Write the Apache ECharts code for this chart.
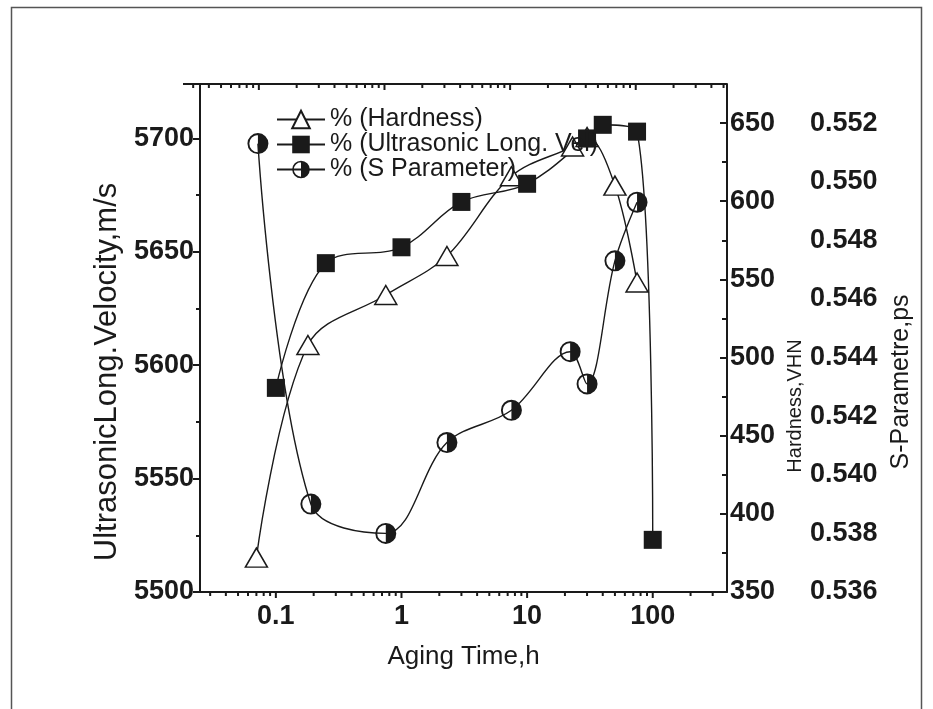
<!DOCTYPE html>
<html>
<head>
<meta charset="utf-8">
<script src="https://cdn.jsdelivr.net/npm/echarts@6/dist/echarts.min.js"></script>
<style>html,body{margin:0;padding:0;background:#fff;}#c{width:933px;height:709px;}</style>
</head>
<body>
<div id="c"></div>
<script>
// ---- data ----
const hardTime = [0.07, 0.18, 0.75, 2.3, 7.5, 23, 30, 50, 75];
const hardVal  = [372, 508, 540, 565, 616, 635, 641, 610, 548];
const velTime  = [0.1, 0.25, 1, 3, 10, 30, 40, 75, 100];
const velVal   = [5590, 5645, 5652, 5672, 5680, 5700, 5706, 5703, 5523];
const sTime    = [0.072, 0.19, 0.75, 2.3, 7.5, 22, 30, 50, 75];
const sVal     = [0.5513, 0.5390, 0.5380, 0.5411, 0.5422, 0.5442, 0.5431, 0.5473, 0.5493];
const xTickLabels = ['0.1', '1', '10', '100'];
const legendNames = ['% (Hardness)', '% (Ultrasonic Long. Vel)', '% (S Parameter)'];

// ---- layout ----
const X_MIN = 0.0249, X_MAX = 390;
const FONT = '"Liberation Sans", Arial, sans-serif';
const INK = '#1a1a1a';
const halfCircle = 'path://M50,0 A50,50 0 1,1 50,100 A50,50 0 1,1 50,0 Z M50,9 A41,41 0 1,0 50,91 A41,41 0 1,0 50,9 Z M50,0 A50,50 0 0,1 50,100 Z';

// tick values for log x axis (major powers + minor 2..9)
const xTicks = [];
for (let e = -2; e <= 2; e++) {
  for (let k = 1; k <= 9; k++) {
    xTicks.push([k * Math.pow(10, e), k === 1 ? 1 : 0]);
  }
}
const TOP_SHIFT = 17;

const chart = echarts.init(document.getElementById('c'), null, {renderer: 'canvas'});
function zip(a, b) { return a.map((x, i) => [x, b[i]]); }
const labelStyle = {fontFamily: FONT, fontWeight: 'bold', fontSize: 27, color: INK};

const option = {
  animation: false,
  backgroundColor: '#fff',
  grid: {left: 200, right: 206, top: 84, bottom: 117, containLabel: false},
  xAxis: [{
    type: 'log', min: X_MIN, max: X_MAX, logBase: 10, position: 'bottom',
    axisLine: {show: true, lineStyle: {color: INK, width: 2}},
    axisTick: {show: false}, minorTick: {show: false}, splitLine: {show: false},
    axisLabel: Object.assign({margin: 11, showMinLabel: false, showMaxLabel: false,
      formatter: function (v) {
        const s = String(+(+v).toPrecision(6));
        return xTickLabels.indexOf(s) >= 0 ? s : '';
      }}, labelStyle),
    name: 'Aging Time,h', nameLocation: 'middle', nameGap: 38,
    nameTextStyle: {fontFamily: FONT, fontSize: 26, color: INK, verticalAlign: 'top', padding: [14, 0, 0, 0]}
  }],
  yAxis: [{
    type: 'value', min: 5500, max: 5724, interval: 50, position: 'left',
    axisLine: {show: true, lineStyle: {color: INK, width: 2}},
    axisTick: {show: true, inside: false, length: 7, lineStyle: {width: 2, color: INK}},
    minorTick: {show: true, splitNumber: 2, length: 4, lineStyle: {width: 2, color: INK}},
    splitLine: {show: false},
    axisLabel: Object.assign({margin: 6, showMaxLabel: false, formatter: v => String(v)}, labelStyle),
    name: 'UltrasonicLong.Velocity,m/s', nameLocation: 'middle', nameGap: 77, nameRotate: 90,
    nameTextStyle: {fontFamily: FONT, fontSize: 31, color: INK, padding: [0, 68, 0, 0]}
  }, {
    type: 'value', min: 350, max: 675, interval: 50, position: 'right',
    axisLine: {show: true, lineStyle: {color: INK, width: 2}},
    axisTick: {show: true, inside: true, length: 7, lineStyle: {width: 2, color: INK}},
    minorTick: {show: true, splitNumber: 2, length: 5, lineStyle: {width: 2, color: INK}},
    splitLine: {show: false},
    axisLabel: Object.assign({margin: 3, showMaxLabel: false, formatter: v => String(v)}, labelStyle),
    name: 'Hardness,VHN', nameLocation: 'middle', nameGap: 51, nameRotate: 90,
    nameTextStyle: {fontFamily: FONT, fontSize: 20, color: INK, padding: [0, 136, 0, 0]}
  }, {
    type: 'value', min: 0.536, max: 0.5533333, interval: 0.002, position: 'right', offset: 75,
    axisLine: {show: false}, axisTick: {show: false}, splitLine: {show: false},
    axisLabel: Object.assign({margin: 8, showMaxLabel: false, formatter: v => v.toFixed(3)}, labelStyle),
    name: 'S-Parametre,ps', nameLocation: 'middle', nameGap: 84, nameRotate: 90,
    nameTextStyle: {fontFamily: FONT, fontSize: 25, color: INK, padding: [0, 88, 0, 0]}
  }],
  legend: {
    orient: 'vertical', left: 271, top: 102, itemGap: 0, itemWidth: 48, itemHeight: 22,
    textStyle: {fontFamily: FONT, fontSize: 25, lineHeight: 25, color: INK},
    data: legendNames
  },
  graphic: [
    {type: 'line', shape: {x1: 183, y1: 84, x2: 727, y2: 84}, style: {stroke: INK, lineWidth: 2}, silent: true},
    {type: 'rect', shape: {x: 11.5, y: 7.5, width: 910, height: 740}, style: {fill: null, stroke: '#555', lineWidth: 1.5}, silent: true}
  ],
  series: [
    {
      name: legendNames[0], type: 'line', xAxisIndex: 0, yAxisIndex: 1,
      data: zip(hardTime, hardVal), smooth: 0.35,
      symbol: 'triangle', symbolSize: [22, 19],
      lineStyle: {color: INK, width: 1.4},
      itemStyle: {color: '#fff', borderColor: INK, borderWidth: 1.5}, z: 3
    },
    {
      name: legendNames[1], type: 'line', xAxisIndex: 0, yAxisIndex: 0,
      data: zip(velTime, velVal), smooth: 0.35,
      symbol: 'rect', symbolSize: 18,
      lineStyle: {color: INK, width: 1.4},
      itemStyle: {color: INK, borderColor: INK, borderWidth: 0}, z: 3
    },
    {
      name: legendNames[2], type: 'line', xAxisIndex: 0, yAxisIndex: 2,
      data: zip(sTime, sVal), smooth: 0.35,
      symbol: halfCircle, symbolSize: 21,
      lineStyle: {color: INK, width: 1.4},
      itemStyle: {color: INK, borderWidth: 0}, z: 3
    },
    {
      type: 'custom', xAxisIndex: 0, yAxisIndex: 0, clip: false, silent: true, z: 5,
      data: xTicks.map(t => [t[0], 5500, t[1]]),
      encode: {x: 0, y: 1},
      renderItem: function (params, api) {
        const v = api.value(0), major = api.value(2);
        const pb = api.coord([v, 5500]);
        const pt = api.coord([v, 5724]);
        const L = major ? 6 : 4;
        const kids = [];
        if (pb[0] >= 199 && pb[0] <= 728) {
          kids.push({type: 'line', shape: {x1: pb[0], y1: pb[1], x2: pb[0], y2: pb[1] + L}, style: {stroke: INK, lineWidth: 2}});
        }
        const xt = pt[0] - TOP_SHIFT;
        if (xt >= 183 && xt <= 727) {
          kids.push({type: 'line', shape: {x1: xt, y1: pt[1], x2: xt, y2: pt[1] + L}, style: {stroke: INK, lineWidth: 2}});
        }
        return {type: 'group', children: kids};
      }
    }
  ]
};
chart.setOption(option);
</script>
</body>
</html>
